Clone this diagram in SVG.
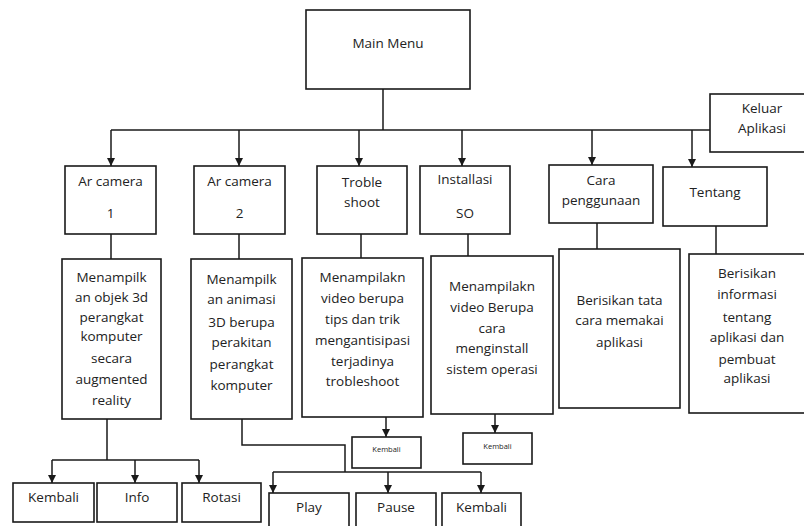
<svg xmlns="http://www.w3.org/2000/svg" width="804" height="526" viewBox="0 0 804 526">
  <style>
    .box { fill: #fff; stroke: #1a1a1a; stroke-width: 1.6; }
    .ln { fill: none; stroke: #1a1a1a; stroke-width: 1.5; }
    text { font-family: "Open Sans", "Liberation Sans", sans-serif; font-size: 13.5px; fill: #222; text-anchor: middle; }
    .sm { font-size: 7.5px; }
  </style>
  <defs>
    <marker id="arr" viewBox="0 0 10 10" refX="10" refY="5" markerWidth="8" markerHeight="8" markerUnits="userSpaceOnUse" orient="auto">
      <path d="M0,0 L10,5 L0,10 z" fill="#1a1a1a"/>
    </marker>
  </defs>
  <rect width="804" height="526" fill="#fff"/>

  <!-- connectors -->
  <g id="connectors">
    <path class="ln" d="M383,89 V130 M111,130 H710"/>
    <path class="ln" marker-end="url(#arr)" d="M111,130 V166"/>
    <path class="ln" marker-end="url(#arr)" d="M239,130 V166"/>
    <path class="ln" marker-end="url(#arr)" d="M359,130 V166"/>
    <path class="ln" marker-end="url(#arr)" d="M462,130 V166"/>
    <path class="ln" marker-end="url(#arr)" d="M592,130 V165"/>
    <path class="ln" marker-end="url(#arr)" d="M692,130 V167"/>
    <path class="ln" d="M111,234 V259 M239,234 V259 M361,234 V258 M468,234 V256 M597,223 V249 M716,226 V254"/>
    <!-- AR camera 1 children -->
    <path class="ln" d="M107,419 V460 M52,460 H199"/>
    <path class="ln" marker-end="url(#arr)" d="M52,460 V483"/>
    <path class="ln" marker-end="url(#arr)" d="M135,460 V483"/>
    <path class="ln" marker-end="url(#arr)" d="M199,460 V483"/>
    <!-- AR camera 2 children -->
    <path class="ln" d="M242,419 V445 H345 V472 M273,472 H481"/>
    <path class="ln" marker-end="url(#arr)" d="M273,472 V493"/>
    <path class="ln" marker-end="url(#arr)" d="M388,472 V493"/>
    <path class="ln" marker-end="url(#arr)" d="M481,472 V493"/>
    <!-- back links -->
    <path class="ln" marker-end="url(#arr)" d="M386,417 V437"/>
    <path class="ln" marker-end="url(#arr)" d="M495,414 V433"/>
  </g>

  <g id="main-menu">
    <rect class="box" x="306" y="10" width="164" height="79"/>
    <text x="388" y="48">Main Menu</text>
  </g>
  <g id="keluar">
    <rect class="box" x="710" y="94" width="100" height="58"/>
    <text x="762" y="113">Keluar</text>
    <text x="762" y="133">Aplikasi</text>
  </g>

  <g id="ar-camera-1">
    <rect class="box" x="65" y="166" width="91" height="68"/>
    <text x="110.5" y="186">Ar camera</text>
    <text x="110.5" y="218">1</text>
  </g>
  <g id="ar-camera-2">
    <rect class="box" x="194" y="166" width="91" height="68"/>
    <text x="239.5" y="186">Ar camera</text>
    <text x="239.5" y="218">2</text>
  </g>
  <g id="troble-shoot">
    <rect class="box" x="317" y="166" width="90" height="68"/>
    <text x="362" y="187">Troble</text>
    <text x="362" y="207">shoot</text>
  </g>
  <g id="installasi-so">
    <rect class="box" x="420" y="166" width="90" height="68"/>
    <text x="465" y="184">Installasi</text>
    <text x="465" y="218">SO</text>
  </g>
  <g id="cara-penggunaan">
    <rect class="box" x="549" y="165" width="104" height="58"/>
    <text x="601" y="185">Cara</text>
    <text x="601" y="205">penggunaan</text>
  </g>
  <g id="tentang">
    <rect class="box" x="663" y="167" width="104" height="59"/>
    <text x="715" y="197">Tentang</text>
  </g>

  <g id="desc-ar1">
    <rect class="box" x="62" y="259" width="99" height="160"/>
    <text x="111.5" y="282">Menampilk</text>
    <text x="111.5" y="302">an objek 3d</text>
    <text x="111.5" y="322">perangkat</text>
    <text x="111.5" y="341">komputer</text>
    <text x="111.5" y="363">secara</text>
    <text x="111.5" y="384">augmented</text>
    <text x="111.5" y="405">reality</text>
  </g>
  <g id="desc-ar2">
    <rect class="box" x="191" y="259" width="101" height="160"/>
    <text x="241.5" y="284">Menampilk</text>
    <text x="241.5" y="304">an animasi</text>
    <text x="241.5" y="327">3D berupa</text>
    <text x="241.5" y="347">perakitan</text>
    <text x="241.5" y="369">perangkat</text>
    <text x="241.5" y="390">komputer</text>
  </g>
  <g id="desc-troble">
    <rect class="box" x="302" y="258" width="121" height="159"/>
    <text x="362.5" y="282">Menampilakn</text>
    <text x="362.5" y="303">video berupa</text>
    <text x="362.5" y="324">tips dan trik</text>
    <text x="362.5" y="345">mengantisipasi</text>
    <text x="362.5" y="366">terjadinya</text>
    <text x="362.5" y="386">trobleshoot</text>
  </g>
  <g id="desc-installasi">
    <rect class="box" x="431" y="256" width="122" height="158"/>
    <text x="492" y="291">Menampilakn</text>
    <text x="492" y="312">video Berupa</text>
    <text x="492" y="333">cara</text>
    <text x="492" y="353">menginstall</text>
    <text x="492" y="374">sistem operasi</text>
  </g>
  <g id="desc-cara">
    <rect class="box" x="559" y="249" width="121" height="159"/>
    <text x="619.5" y="305">Berisikan tata</text>
    <text x="619.5" y="325">cara memakai</text>
    <text x="619.5" y="347">aplikasi</text>
  </g>
  <g id="desc-tentang">
    <rect class="box" x="689" y="254" width="120" height="159"/>
    <text x="747" y="278">Berisikan</text>
    <text x="747" y="299">informasi</text>
    <text x="747" y="322">tentang</text>
    <text x="747" y="342">aplikasi dan</text>
    <text x="747" y="364">pembuat</text>
    <text x="747" y="383">aplikasi</text>
  </g>

  <g id="kembali-ar1">
    <rect class="box" x="13" y="483" width="81" height="39"/>
    <text x="53.5" y="502">Kembali</text>
  </g>
  <g id="info">
    <rect class="box" x="97" y="483" width="80" height="39"/>
    <text x="137" y="502">Info</text>
  </g>
  <g id="rotasi">
    <rect class="box" x="182" y="483" width="79" height="39"/>
    <text x="221.5" y="502">Rotasi</text>
  </g>
  <g id="play">
    <rect class="box" x="269" y="493" width="80" height="40"/>
    <text x="309" y="512">Play</text>
  </g>
  <g id="pause">
    <rect class="box" x="356" y="493" width="80" height="40"/>
    <text x="396" y="512">Pause</text>
  </g>
  <g id="kembali-ar2">
    <rect class="box" x="442" y="493" width="79" height="40"/>
    <text x="481.5" y="512">Kembali</text>
  </g>
  <g id="kembali-troble">
    <rect class="box" x="352" y="437" width="69" height="31"/>
    <text class="sm" x="386.5" y="452">Kembali</text>
  </g>
  <g id="kembali-installasi">
    <rect class="box" x="463" y="433" width="69" height="31"/>
    <text class="sm" x="497.5" y="449">Kembali</text>
  </g>
</svg>
